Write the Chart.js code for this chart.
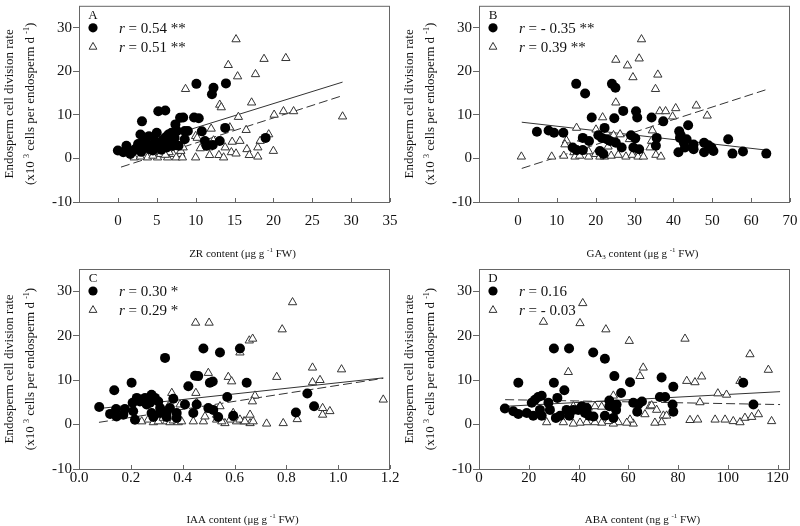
<!DOCTYPE html>
<html>
<head>
<meta charset="utf-8">
<script src="https://cdn.jsdelivr.net/npm/chart.js@4.4.1/dist/chart.umd.min.js"></script>
<style>
  body { margin: 0; background: #fff; width: 800px; height: 526px; position: relative; overflow: hidden; }
  .panel { position: absolute; width: 400px; height: 263px; }
</style>
</head>
<body>
<div class="panel" style="left:0;top:0"><canvas id="cA" width="400" height="263"></canvas></div>
<div class="panel" style="left:400px;top:0"><canvas id="cB" width="400" height="263"></canvas></div>
<div class="panel" style="left:0;top:263px"><canvas id="cC" width="400" height="263"></canvas></div>
<div class="panel" style="left:400px;top:263px"><canvas id="cD" width="400" height="263"></canvas></div>
<script>
/* Endosperm cell division rate vs hormone content, four panels */

// tick labels
const yTicks = [-10, 0, 10, 20, 30];
const zrTicks = [0, 5, 10, 15, 20, 25, 30, 35];
const gaTicks = [0, 10, 20, 30, 40, 50, 60, 70];
const iaaTicks = [0, 0.2, 0.4, 0.6, 0.8, 1.0, 1.2];
const abaTicks = [0, 20, 40, 60, 80, 100, 120];

// A: ZR  (filled circles / open triangles), [x, y]
const zrDots = [[0.0,1.8],[0.7,1.4],[1.1,2.9],[1.6,1.0],[1.9,1.6],[2.2,2.1],[2.5,2.5],[2.6,3.3],[2.9,5.5],[3.1,8.5],[3.0,1.5],[3.3,4.0],[3.5,3.6],[3.7,2.9],[3.7,4.8],[4.0,5.1],[4.1,2.1],[4.4,3.0],[4.5,1.8],[4.8,4.0],[5.0,5.9],[5.2,10.8],[5.4,2.5],[5.6,3.3],[5.6,2.0],[5.8,4.2],[6.1,11.0],[6.1,4.8],[6.3,2.5],[6.5,5.5],[6.7,4.4],[6.9,5.9],[7.1,2.9],[7.3,4.7],[7.4,7.8],[7.6,6.3],[7.8,2.9],[8.0,9.3],[8.4,9.4],[8.6,6.3],[8.6,4.4],[9.0,6.3],[9.8,9.4],[10.1,17.1],[10.4,9.2],[10.8,6.2],[11.2,4.0],[11.4,2.9],[12.1,14.7],[12.2,3.1],[12.3,16.2],[13.1,4.0],[13.8,7.0],[13.9,17.2],[19.0,4.7]];
const zrTris = [[15.2,27.3],[14.2,21.4],[18.8,22.8],[21.6,23.0],[15.4,18.8],[17.7,19.3],[8.7,15.9],[13.1,12.3],[13.3,11.7],[17.2,12.8],[21.3,10.8],[22.6,10.8],[15.5,9.5],[20.1,10.0],[28.9,9.6],[12.0,6.8],[14.4,7.1],[16.5,6.5],[10.0,5.1],[10.2,4.7],[19.4,5.5],[18.3,4.0],[14.7,3.8],[15.7,4.0],[12.3,4.1],[10.6,2.3],[11.7,2.5],[13.8,2.5],[16.6,2.1],[18.0,2.5],[20.0,1.7],[14.6,1.4],[15.2,1.1],[13.0,0.75],[11.8,0.75],[16.9,0.75],[18.0,0.4],[13.6,0.2],[10.0,0.2],[8.1,1.0],[7.1,1.0],[2.1,0.2],[3.8,0.2],[5.1,0.2],[6.4,0.2],[7.5,0.2],[8.3,0.2],[5.5,1.0],[6.6,1.4],[6.1,0.8],[8.1,1.7],[8.4,2.5],[4.5,0.6],[2.9,0.4]];
const zrFitDots = [[0.4,1.7],[28.9,17.5]];
const zrFitTris = [[0.4,-2.0],[28.9,14.4]];

// B: GA3
const gaDots = [[4.9,6.1],[7.9,6.4],[9.3,5.9],[11.7,5.9],[15.0,17.1],[17.3,14.9],[16.7,4.7],[14.1,2.5],[15.1,1.9],[16.7,1.9],[18.3,4.0],[19.0,9.4],[20.7,5.3],[21.6,4.7],[22.3,7.0],[21.1,1.7],[22.0,1.0],[24.2,17.1],[25.1,16.2],[24.8,9.2],[27.1,10.9],[22.9,4.4],[23.7,4.0],[25.2,3.6],[26.7,2.5],[29.1,5.3],[30.2,4.6],[29.7,2.5],[30.4,10.8],[30.7,9.4],[31.2,2.1],[34.4,9.4],[35.7,4.7],[35.5,2.9],[37.4,8.5],[41.5,6.2],[41.9,5.3],[43.8,7.6],[41.7,4.7],[42.7,3.6],[43.0,2.5],[41.3,1.4],[43.4,4.4],[45.2,3.2],[45.2,2.1],[47.9,3.6],[49.0,3.0],[49.8,2.5],[50.3,1.7],[47.9,1.4],[54.1,4.4],[55.2,1.1],[57.9,1.6],[63.9,1.1]];
const gaTris = [[31.8,27.3],[25.2,22.6],[31.2,22.9],[28.2,21.3],[29.6,18.6],[36.0,19.2],[35.4,15.9],[25.2,12.8],[21.8,9.4],[36.5,10.8],[38.0,10.8],[40.6,11.5],[39.8,9.6],[45.9,12.1],[48.7,9.8],[15.1,7.0],[20.1,6.6],[34.6,6.4],[16.4,4.5],[12.5,4.1],[12.1,3.2],[23.7,4.7],[24.6,5.3],[26.3,5.5],[25.4,3.6],[23.2,2.7],[28.7,4.4],[34.4,4.0],[34.0,2.5],[31.2,1.9],[29.6,1.0],[0.9,0.4],[8.7,0.4],[11.8,0.6],[14.4,1.4],[14.7,0.4],[15.9,0.6],[18.2,0.4],[20.0,1.0],[21.1,0.4],[22.3,0.4],[24.0,0.6],[25.8,0.8],[27.8,0.4],[29.4,0.8],[30.9,0.4],[32.3,0.4],[35.5,0.8],[36.8,0.4],[21.2,1.4],[18.2,1.6]];
const gaFitDots = [[1,8.3],[64,1.9]];
const gaFitTris = [[1,-2.3],[64,15.8]];

// C: IAA
const iaaDots = [[0.078,3.95],[0.12,2.4],[0.136,7.7],[0.143,3.5],[0.145,1.8],[0.171,2.2],[0.177,3.5],[0.203,9.4],[0.207,4.9],[0.209,3.0],[0.216,1.1],[0.223,6.0],[0.235,5.2],[0.255,6.0],[0.261,4.5],[0.274,4.9],[0.28,6.7],[0.28,2.6],[0.293,6.0],[0.306,5.2],[0.313,3.7],[0.313,2.6],[0.287,1.7],[0.332,15.0],[0.338,2.6],[0.338,1.7],[0.351,3.7],[0.364,5.8],[0.377,2.6],[0.377,1.5],[0.409,4.5],[0.422,8.6],[0.441,2.6],[0.448,11.0],[0.46,10.9],[0.454,4.5],[0.48,17.1],[0.499,3.7],[0.505,9.4],[0.516,9.7],[0.518,3.3],[0.537,1.7],[0.544,16.2],[0.572,6.2],[0.595,2.0],[0.621,17.1],[0.647,9.4],[0.837,2.7],[0.881,7.0],[0.907,4.1]];
const iaaTris = [[0.824,27.5],[0.784,21.4],[0.657,18.9],[0.67,19.3],[0.621,16.2],[0.901,12.8],[1.013,12.4],[0.763,10.7],[0.901,9.5],[0.930,10.0],[0.576,10.7],[0.589,9.7],[0.679,6.5],[0.669,5.2],[1.174,5.6],[0.940,3.7],[0.968,3.0],[0.940,2.2],[0.842,1.2],[0.788,0.3],[0.724,0.2],[0.66,0.3],[0.672,0.7],[0.636,0.7],[0.608,0.7],[0.583,1.1],[0.563,0.3],[0.66,2.2],[0.450,22.9],[0.502,22.9],[0.499,11.6],[0.358,7.1],[0.451,7.1],[0.454,4.9],[0.345,4.1],[0.39,4.5],[0.544,4.1],[0.595,2.6],[0.242,0.7],[0.267,1.1],[0.287,0.5],[0.306,0.7],[0.325,1.5],[0.338,0.7],[0.351,0.5],[0.364,0.9],[0.383,0.5],[0.396,0.7],[0.441,0.7],[0.48,0.7],[0.486,1.8],[0.531,1.1],[0.531,2.2],[0.551,0.7],[0.602,1.5],[0.621,1.1],[0.640,0.7]];
const iaaFitDots = [[0.077,3.6],[1.174,10.5]];
const iaaFitTris = [[0.077,0.5],[1.174,10.4]];

// D: ABA
const abaDots = [[10.4,3.6],[13.8,3.0],[15.8,2.4],[15.8,9.4],[19.2,2.6],[21.8,2.0],[21.2,4.9],[22.5,5.6],[23.8,6.2],[25.2,6.5],[24.5,3.3],[25.2,2.0],[27.9,4.9],[28.5,3.3],[30.1,17.1],[30.1,9.4],[31.5,6.0],[30.9,1.5],[32.6,2.0],[34.3,7.7],[35.2,3.3],[36.2,17.1],[36.3,2.0],[37.9,3.3],[39.9,3.3],[41.3,4.1],[42.6,2.6],[43.3,3.7],[44.3,2.0],[45.9,16.2],[46.0,1.8],[50.6,14.8],[54.4,10.9],[57.1,7.1],[52.4,5.4],[55.3,4.5],[50.6,2.0],[54.0,1.5],[55.1,3.3],[52.4,4.1],[60.7,9.5],[62.0,4.9],[64.0,4.5],[63.6,2.9],[65.5,5.2],[73.4,10.6],[72.7,6.2],[74.8,6.2],[78.1,8.5],[77.8,4.5],[78.1,2.9],[106.2,9.4],[110.3,4.5]];
const abaTris = [[25.9,23.1],[40.6,22.8],[41.7,27.3],[51.0,21.4],[60.4,18.8],[82.8,19.3],[35.9,11.8],[108.9,15.8],[116.3,12.3],[83.5,9.8],[86.8,9.5],[89.5,10.8],[64.7,10.9],[66.0,12.8],[104.9,9.8],[96.0,7.0],[99.5,6.7],[88.8,5.0],[54.0,6.5],[37.9,4.1],[43.9,3.8],[46.6,4.1],[49.3,4.0],[68.7,4.1],[69.4,4.3],[71.4,3.3],[74.1,2.0],[75.4,2.0],[66.7,2.3],[94.9,1.1],[98.9,1.1],[102.2,0.75],[104.9,0.5],[106.9,1.5],[109.6,1.7],[112.3,2.3],[117.6,0.75],[84.8,1.0],[87.9,1.1],[73.4,0.5],[70.7,0.4],[62.0,0.2],[60.7,1.1],[59.4,0.4],[56.0,0.5],[54.0,0.2],[52.0,0.75],[43.3,0.5],[40.6,0.4],[37.9,0.2],[33.9,0.5],[27.2,0.5],[49.3,0.4],[46.6,0.5]];
const abaFitDots = [[10.5,4.1],[121,7.4]];
const abaFitTris = [[10.5,5.6],[121,4.5]];

const FONT = '"Liberation Serif", "Times New Roman", serif';
const INK = "#111";
const FRAME = "#666";

// text helpers (superscript / subscript / italic runs)
function runFont(p, size) {
  const s = p.sup || p.sub ? Math.round(size * 0.65) : size;
  return (p.it ? "italic " : "") + s + "px " + FONT;
}
function runWidth(ctx, parts, size) {
  let w = 0;
  parts.forEach((p) => {
    ctx.font = runFont(p, size);
    w += ctx.measureText(p.t).width;
  });
  return w;
}
function drawRuns(ctx, parts, x, y, size, center) {
  let cx = center ? x - runWidth(ctx, parts, size) / 2 : x;
  ctx.textAlign = "left";
  ctx.textBaseline = "alphabetic";
  parts.forEach((p) => {
    ctx.font = runFont(p, size);
    const dy = p.sup ? -size * 0.42 : p.sub ? size * 0.22 : 0;
    ctx.fillText(p.t, cx, y + dy);
    cx += ctx.measureText(p.t).width;
  });
}

const yTitle1 = [{ t: "Endosperm cell division rate" }];
const yTitle2 = [{ t: "(x10 " }, { t: "3", sup: true }, { t: " cells per endosperm d " }, { t: "-1", sup: true }, { t: ")" }];

// frame, inward x ticks, axis titles, inset legend
const decor = {
  id: "decor",
  afterDraw(chart, args, o) {
    const { ctx, chartArea: a, scales } = chart;
    const xs = scales.x;
    ctx.save();
    ctx.strokeStyle = FRAME;
    ctx.lineWidth = 1;
    ctx.strokeRect(a.left + 0.5, a.top + 0.5, a.right - a.left - 1, a.bottom - a.top);
    ctx.beginPath();
    o.xTicks.forEach((v) => {
      const px = Math.round(xs.getPixelForValue(v)) + 0.5;
      ctx.moveTo(px, a.bottom);
      ctx.lineTo(px, a.bottom - 4);
    });
    ctx.stroke();

    ctx.fillStyle = INK;
    // x title
    drawRuns(ctx, o.xTitle, (a.left + a.right) / 2 + 8, o.xTitleY, 11, true);
    // y title, two rotated lines
    const cy = (a.top + a.bottom) / 2;
    ctx.save();
    ctx.translate(9, cy);
    ctx.rotate(-Math.PI / 2);
    drawRuns(ctx, yTitle1, 0, 4, 13, true);
    ctx.restore();
    ctx.save();
    ctx.translate(30, cy);
    ctx.rotate(-Math.PI / 2);
    drawRuns(ctx, yTitle2, 0, 4, 13, true);
    ctx.restore();

    // inset legend
    const lx = 93;
    ctx.font = "13px " + FONT;
    ctx.textAlign = "center";
    ctx.textBaseline = "middle";
    ctx.fillText(o.letter, lx, a.top + 10);
    ctx.beginPath();
    ctx.arc(lx, a.top + 22, 4.6, 0, Math.PI * 2);
    ctx.fillStyle = "#000";
    ctx.fill();
    const ty = a.top + 41;
    ctx.beginPath();
    ctx.moveTo(lx, ty - 4.4);
    ctx.lineTo(lx + 3.9, ty + 2.4);
    ctx.lineTo(lx - 3.9, ty + 2.4);
    ctx.closePath();
    ctx.strokeStyle = "#333";
    ctx.stroke();
    ctx.fillStyle = INK;
    drawRuns(ctx, [{ t: "r", it: true }, { t: " = " + o.r1 }], 119, a.top + 27, 15, false);
    drawRuns(ctx, [{ t: "r", it: true }, { t: " = " + o.r2 }], 119, a.top + 46, 15, false);
    ctx.restore();
  },
};

function pts(list) {
  return list.map((p) => ({ x: p[0], y: p[1] }));
}

function makePanel(id, p) {
  return new Chart(document.getElementById(id), {
    type: "scatter",
    data: {
      datasets: [
        { data: pts(p.dots), pointStyle: "circle", pointRadius: 5, backgroundColor: "#000", borderColor: "#000", borderWidth: 0 },
        { data: pts(p.tris), pointStyle: "triangle", pointRadius: 4.8, backgroundColor: "#fff", borderColor: "#333", borderWidth: 1 },
        { data: pts(p.fitDots), showLine: true, pointRadius: 0, borderColor: "#333", borderWidth: 1 },
        { data: pts(p.fitTris), showLine: true, pointRadius: 0, borderColor: "#333", borderWidth: 1, borderDash: [9, 4] },
      ],
    },
    options: {
      responsive: false,
      devicePixelRatio: 1,
      animation: false,
      layout: { padding: { top: p.top, right: 10, left: 0, bottom: 0 } },
      plugins: {
        legend: { display: false },
        tooltip: { enabled: false },
        decor: { xTicks: p.xTicks, xTitle: p.xTitle, xTitleY: p.xTitleY, letter: p.letter, r1: p.r1, r2: p.r2 },
      },
      scales: {
        x: {
          type: "linear",
          min: p.xMin,
          max: p.xMax,
          afterBuildTicks: (s) => { s.ticks = p.xTicks.map((v) => ({ value: v })); },
          afterFit: (s) => { s.height = p.xAxisH; s.paddingLeft = 0; s.paddingRight = 0; },
          grid: { display: false, drawTicks: false },
          border: { display: false },
          ticks: {
            padding: p.xPad,
            color: INK,
            autoSkip: false,
            maxRotation: 0,
            font: { family: FONT, size: 15 },
            callback: (v) => (p.dec ? v.toFixed(1) : String(v)),
          },
        },
        y: {
          type: "linear",
          min: -10,
          max: 35,
          afterBuildTicks: (s) => { s.ticks = yTicks.map((v) => ({ value: v })); },
          afterFit: (s) => { s.width = 79; s.paddingTop = 0; s.paddingBottom = 0; },
          grid: { drawOnChartArea: false, drawTicks: true, tickLength: 6, color: FRAME },
          border: { display: false },
          ticks: { padding: 1, color: INK, font: { family: FONT, size: 15 }, callback: (v) => String(v) },
        },
      },
    },
    plugins: [decor],
  });
}

const contentTail = [{ t: " content (\u03bcg g " }, { t: "-1", sup: true }, { t: " FW)" }];

makePanel("cA", {
  dots: zrDots, tris: zrTris, fitDots: zrFitDots, fitTris: zrFitTris,
  xMin: -5, xMax: 35, xTicks: zrTicks, dec: false,
  top: 3, xAxisH: 61, xPad: 10, xTitleY: 257,
  xTitle: [{ t: "ZR" }].concat(contentTail),
  letter: "A", r1: "0.54 **", r2: "0.51 **",
});
makePanel("cB", {
  dots: gaDots, tris: gaTris, fitDots: gaFitDots, fitTris: gaFitTris,
  xMin: -10, xMax: 70, xTicks: gaTicks, dec: false,
  top: 3, xAxisH: 61, xPad: 10, xTitleY: 257,
  xTitle: [{ t: "GA" }, { t: "3", sub: true }].concat(contentTail),
  letter: "B", r1: "- 0.35 **", r2: "0.39 **",
});
makePanel("cC", {
  dots: iaaDots, tris: iaaTris, fitDots: iaaFitDots, fitTris: iaaFitTris,
  xMin: 0, xMax: 1.2, xTicks: iaaTicks, dec: true,
  top: 6, xAxisH: 57, xPad: 0, xTitleY: 260,
  xTitle: [{ t: "IAA" }].concat(contentTail),
  letter: "C", r1: "0.30 *", r2: "0.29 *",
});
makePanel("cD", {
  dots: abaDots, tris: abaTris, fitDots: abaFitDots, fitTris: abaFitTris,
  xMin: 0, xMax: 125, xTicks: abaTicks, dec: false,
  top: 6, xAxisH: 57, xPad: 0, xTitleY: 260,
  xTitle: [{ t: "ABA content (ng g " }, { t: "-1", sup: true }, { t: " FW)" }],
  letter: "D", r1: "0.16", r2: "- 0.03",
});
</script>
</body>
</html>
